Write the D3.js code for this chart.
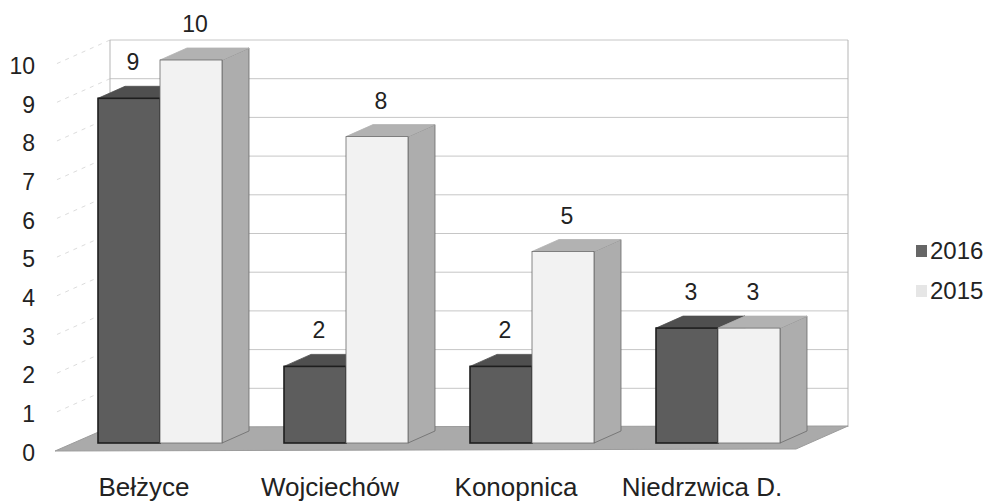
<!DOCTYPE html>
<html>
<head>
<meta charset="utf-8">
<script src="https://cdnjs.cloudflare.com/ajax/libs/d3/7.8.5/d3.min.js"></script>
<style>
	body { margin: 0; background: #fff; }
	svg text { font-family: "Liberation Sans", Arial, sans-serif; fill: #222; }
</style>
</head>
<body>
<svg id="chart" width="999" height="501"></svg>
<script>

//data
var categories = ["Bełżyce", "Wojciechów", "Konopnica", "Niedrzwica D."];
var seriesNames = ["2016", "2015"];
var values2016 = [9, 2, 2, 3];
var values2015 = [10, 8, 5, 3];
var yTicks = [0, 1, 2, 3, 4, 5, 6, 7, 8, 9, 10];


var svg = d3.select("#chart"),
	depthX = 27,
	depthY = -12;

//colors for 3d faces
var faces = {
	"2016": {front: "#5d5d5d", top: "#4f4f4f", side: "#4a4a4a", edge: "#1e1e1e"},
	"2015": {front: "#f2f2f2", top: "#b2b2b2", side: "#adadad", edge: "#6a6a6a"}
};

//scales
var x = d3.scaleBand().domain(categories).range([98, 98 + 4 * 186]),
	xSeries = d3.scaleBand().domain(seriesNames).range([0, 124]),
	yFront = d3.scaleLinear().domain([0, 10]).range([443, 60]),
	yBack = d3.scaleLinear().domain([0, 10]).range([427, 40]),
	yLabel = d3.scaleLinear().domain([0, 10]).range([453, 66]);

//-------------back wall + left wall---------------
var wall = svg.append("g").attr("class", "walls");

wall.selectAll(".grid")
	.data(yTicks.slice(1))
	.enter().append("line")
	.attr("class", "grid")
	.attr("x1", 110).attr("x2", 848)
	.attr("y1", function(d){ return yBack(d); })
	.attr("y2", function(d){ return yBack(d); })
	.attr("stroke", "#c6c6c6")
	.attr("stroke-width", 1);

wall.selectAll(".side-grid")
	.data(yTicks.slice(1))
	.enter().append("line")
	.attr("class", "side-grid")
	.attr("x1", 110).attr("x2", 56)
	.attr("y1", function(d){ return yBack(d); })
	.attr("y2", function(d){ return yBack(d) + 24; })
	.attr("stroke", "#dcdcdc")
	.attr("stroke-dasharray", "4,5");

wall.selectAll(".edge")
	.data([110, 848])
	.enter().append("line")
	.attr("x1", function(d){ return d; })
	.attr("x2", function(d){ return d; })
	.attr("y1", yBack(10))
	.attr("y2", yBack(0))
	.attr("stroke", "#b5b5b5");

//floor
wall.append("polygon")
	.attr("points", [[55, 451], [110, yBack(0)], [848, yBack(0) - 1], [796, 449]].join(" "))
	.attr("fill", "#aaaaaa")
	.attr("stroke", "#9c9c9c")
	.attr("stroke-width", 1);

//-------------bars---------------
var rows = [];
categories.forEach(function(c, i){
	rows.push({cat: c, series: "2016", value: values2016[i]});
	rows.push({cat: c, series: "2015", value: values2015[i]});
});

var bar = svg.append("g")
	.attr("class", "bars")
	.selectAll("g")
	.data(rows)
	.enter().append("g");

function x0(d){ return x(d.cat) + xSeries(d.series); }
function x1(d){ return x0(d) + xSeries.bandwidth(); }

//side face
bar.append("polygon")
	.attr("points", function(d){
		var top = yFront(d.value), bot = yFront(0);
		return [[x1(d), top], [x1(d) + depthX, top + depthY], [x1(d) + depthX, bot + depthY], [x1(d), bot]].join(" ");
	})
	.attr("fill", function(d){ return faces[d.series].side; })
	.attr("stroke", function(d){ return faces[d.series].edge; })
	.attr("stroke-width", 0.8);

//top face
bar.append("polygon")
	.attr("points", function(d){
		var top = yFront(d.value);
		return [[x0(d), top], [x0(d) + depthX, top + depthY], [x1(d) + depthX, top + depthY], [x1(d), top]].join(" ");
	})
	.attr("fill", function(d){ return faces[d.series].top; })
	.attr("stroke", function(d){ return faces[d.series].top; })
	.attr("stroke-width", 0.8);

//front face
bar.append("rect")
	.attr("x", function(d){ return x0(d); })
	.attr("y", function(d){ return yFront(d.value); })
	.attr("width", xSeries.bandwidth())
	.attr("height", function(d){ return yFront(0) - yFront(d.value); })
	.attr("fill", function(d){ return faces[d.series].front; })
	.attr("stroke", function(d){ return faces[d.series].edge; })
	.attr("stroke-width", function(d){ return d.series === "2016" ? 1.6 : 0.8; });

//value labels
bar.append("text")
	.attr("x", function(d){ return x0(d) + xSeries.bandwidth() / 2 + 4; })
	.attr("y", function(d){ return yFront(d.value) + depthY - 16; })
	.attr("text-anchor", "middle")
	.style("font-size", "23px")
	.text(function(d){ return d.value; });

//-------------axis---------------
var axis = svg.append("g")
	.attr("transform", "translate(37,0)")
	.call(d3.axisLeft(yLabel).tickValues(yTicks).tickSize(0).tickPadding(2));
axis.select(".domain").remove();
axis.selectAll("text")
	.style("font-size", "23px")
	.style("font-family", "'Liberation Sans', Arial, sans-serif")
	.attr("fill", "#222");

//category labels
svg.append("g")
	.selectAll("text")
	.data(categories)
	.enter().append("text")
	.attr("x", function(d){ return x(d) + 46; })
	.attr("y", 496)
	.attr("text-anchor", "middle")
	.style("font-size", "26px")
	.text(function(d){ return d; });

//-------------legend---------------
var legend = svg.append("g")
	.selectAll("g")
	.data(seriesNames)
	.enter().append("g")
	.attr("transform", function(d, i){ return "translate(916," + (245 + i * 40) + ")"; });

legend.append("rect")
	.attr("width", 11).attr("height", 12)
	.attr("fill", function(d){ return d === "2016" ? "#666" : "#e6e6e6"; });

legend.append("text")
	.attr("x", 14)
	.attr("y", 14)
	.style("font-size", "24px")
	.text(function(d){ return d; });

</script>
</body>
</html>
